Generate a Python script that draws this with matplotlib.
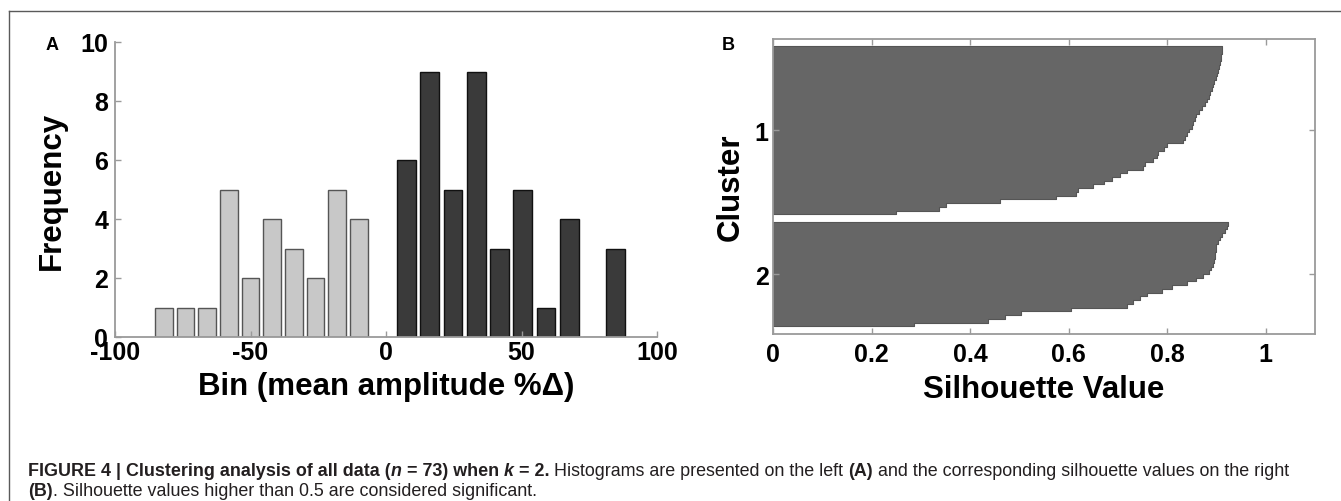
import matplotlib
matplotlib.use("Agg")
import matplotlib.pyplot as plt
from matplotlib.lines import Line2D
import numpy as np

# panel A: histogram of mean amplitude change, split by cluster
neg_centers = [-82, -74, -66, -58, -50, -42, -34, -26, -18, -10]
neg_counts = [1, 1, 1, 5, 2, 4, 3, 2, 5, 4]
pos_centers = [7.5, 16.1, 24.7, 33.3, 41.9, 50.4, 59.0, 67.6, 76.2, 84.8]
pos_counts = [6, 9, 5, 9, 3, 5, 1, 4, 0, 3]

# panel B: silhouette values, sorted within each cluster
sil_cluster1 = [0.912, 0.911, 0.910, 0.909, 0.908, 0.906, 0.904, 0.901, 0.899, 0.895,
                0.893, 0.890, 0.887, 0.884, 0.880, 0.876, 0.871, 0.864, 0.859, 0.856,
                0.852, 0.850, 0.845, 0.841, 0.837, 0.833, 0.800, 0.794, 0.781, 0.780,
                0.772, 0.755, 0.750, 0.718, 0.705, 0.688, 0.671, 0.650, 0.620, 0.615,
                0.574, 0.460, 0.352, 0.336, 0.249]
sil_cluster2 = [0.923, 0.922, 0.918, 0.912, 0.908, 0.904, 0.900, 0.899, 0.898, 0.897,
                0.896, 0.893, 0.888, 0.884, 0.872, 0.858, 0.840, 0.810, 0.790, 0.760,
                0.745, 0.730, 0.718, 0.604, 0.503, 0.470, 0.436, 0.286]
cluster_labels = ["1", "2"]

W, H = 1341, 502
plt.rcParams['font.family'] = ['Liberation Sans', 'DejaVu Sans']
plt.rcParams['font.weight'] = 'bold'
plt.rcParams['axes.labelweight'] = 'bold'
plt.rcParams['axes.unicode_minus'] = False

fig = plt.figure(figsize=(W / 100, H / 100), dpi=100)
spine_col = '#9a9a9a'

def px_axes(left, top, right, bottom):
    return fig.add_axes([left / W, 1 - bottom / H, (right - left) / W, (bottom - top) / H])

# ---- panel A
axA = px_axes(115, 43, 657, 338)
axA.bar(neg_centers, neg_counts, width=6.5, color='#c8c8c8', edgecolor='#555555', linewidth=1.0)
axA.bar(pos_centers, pos_counts, width=6.9, color='#3a3a3a', edgecolor='#111111', linewidth=1.0)
axA.set_xlim(-100, 100)
axA.set_ylim(0, 10)
axA.set_xticks([-100, -50, 0, 50, 100])
axA.set_yticks([0, 2, 4, 6, 8, 10])
for s in ['top', 'right']:
    axA.spines[s].set_visible(False)
for s in ['left', 'bottom']:
    axA.spines[s].set_color(spine_col)
    axA.spines[s].set_linewidth(1.3)
axA.tick_params(direction='in', length=4, width=1, color=spine_col, labelsize=18)
axA.tick_params(axis='x', pad=2)
axA.tick_params(axis='y', pad=5)
axA.set_xlabel('Bin (mean amplitude %Δ)', fontsize=22.5, va='top')
axA.set_ylabel('Frequency', fontsize=22.5)
axA.xaxis.set_label_coords(0.5, -0.115)
axA.yaxis.set_label_coords(-0.089, 0.5)

# ---- panel B (silhouette plot, one staircase per cluster)
axB = px_axes(773, 40, 1315, 334.7)
space = 2
n_tot = len(sil_cluster1) + len(sil_cluster2)
pos = 0
centers = []
for vals in [sil_cluster1, sil_cluster2]:
    pos += space
    edges = pos + 0.5 + np.arange(len(vals) + 1)
    xs = list(vals) + [vals[-1]]
    axB.fill_betweenx(edges, 0, xs, step='post', facecolor='#666666',
                      edgecolor='#555555', linewidth=0.8)
    centers.append(pos + (len(vals) + 1) / 2)
    pos += len(vals)
axB.set_xlim(0, 1.1)
axB.set_ylim(space * 3 + n_tot + 0.5, 0.5)
axB.set_xticks([0, 0.2, 0.4, 0.6, 0.8, 1])
axB.set_xticklabels(['0', '0.2', '0.4', '0.6', '0.8', '1'])
axB.set_yticks(centers)
axB.set_yticklabels(cluster_labels)
for s in axB.spines.values():
    s.set_color(spine_col)
    s.set_linewidth(1.3)
axB.tick_params(direction='in', length=4, width=1, color=spine_col, labelsize=18,
                top=True, right=True)
axB.tick_params(axis='x', pad=6)
axB.tick_params(axis='y', pad=3)
axB.set_xlabel('Silhouette Value', fontsize=22.5, va='top')
axB.set_ylabel('Cluster', fontsize=22.5)
axB.xaxis.set_label_coords(0.5, -0.137)
axB.yaxis.set_label_coords(-0.05, 0.5)

# panel letters
fig.text(52 / W, 1 - 45 / H, 'A', fontsize=13, ha='center', va='center')
fig.text(728 / W, 1 - 45 / H, 'B', fontsize=13, ha='center', va='center')

# frame round the figure
fig.add_artist(Line2D([9 / W, 1], [1 - 12 / H, 1 - 12 / H], transform=fig.transFigure,
                      color='#5a5a5a', linewidth=1))
fig.add_artist(Line2D([9 / W, 9 / W], [0, 1 - 12 / H], transform=fig.transFigure,
                      color='#5a5a5a', linewidth=1))

# caption with mixed styles
renderer = fig.canvas.get_renderer()
cap_font = 'Liberation Sans'
cap_size = 12.9

def text_w(s, weight, style):
    t = fig.text(0, 0, s, fontsize=cap_size, fontweight=weight, fontstyle=style, family=cap_font)
    w = t.get_window_extent(renderer).width
    t.remove()
    return w

def caption_line(x, base, runs):
    for txt, weight, style in runs:
        sp = text_w('x x', weight, style) - text_w('xx', weight, style)
        core = txt.strip(' ')
        x += sp * (len(txt) - len(txt.lstrip(' ')))
        if core:
            fig.text(x / W, 1 - base / H, core, fontsize=cap_size, fontweight=weight,
                     fontstyle=style, family=cap_font, va='baseline', ha='left', color='#231f20')
            x += text_w(core, weight, style)
        x += sp * (len(txt) - len(txt.rstrip(' ')))

line1 = [("FIGURE 4 | Clustering analysis of all data (", 'bold', 'normal'),
         ("n", 'bold', 'italic'),
         (" = 73) when ", 'bold', 'normal'),
         ("k", 'bold', 'italic'),
         (" = 2.", 'bold', 'normal'),
         (" Histograms are presented on the left ", 'normal', 'normal'),
         ("(A)", 'bold', 'normal'),
         (" and the corresponding silhouette values on the right", 'normal', 'normal')]
line2 = [("(B)", 'bold', 'normal'),
         (". Silhouette values higher than 0.5 are considered significant.", 'normal', 'normal')]
caption_line(28, 476, line1)
caption_line(28, 496, line2)

fig.savefig('out.png', dpi=100)
